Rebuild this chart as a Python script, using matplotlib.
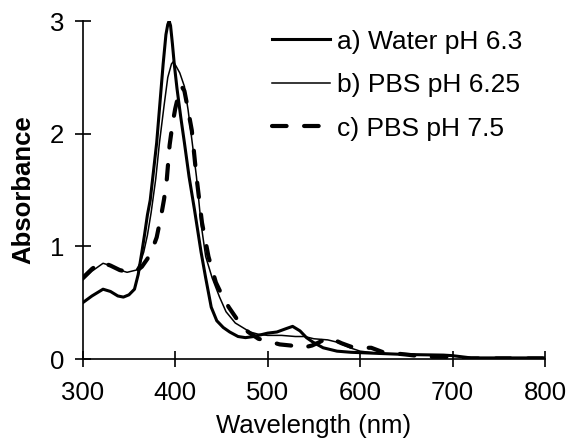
import matplotlib
matplotlib.use('Agg')
import matplotlib.pyplot as plt

plt.rcParams['font.family'] = ['Liberation Sans', 'DejaVu Sans']

# a) Water pH 6.3
wl_a = [300, 310, 322, 330, 338, 344, 350, 356, 360, 364, 367, 370, 373, 377, 380, 384, 387,
        390, 392, 393.5, 395, 397, 399, 402, 406, 410, 415, 421, 428, 433, 439, 445, 452,
        459, 468, 476, 485, 500, 510, 520, 527, 535, 542, 549, 560, 575, 590, 620, 650,
        690, 700, 720, 750, 800]
abs_a = [0.50, 0.56, 0.62, 0.60, 0.56, 0.55, 0.57, 0.62, 0.75, 0.95, 1.11, 1.28, 1.41, 1.70,
         1.92, 2.32, 2.62, 2.88, 2.97, 3.00, 2.96, 2.80, 2.62, 2.40, 2.15, 1.92, 1.62, 1.32,
         0.95, 0.72, 0.46, 0.34, 0.28, 0.24, 0.20, 0.19, 0.20, 0.23, 0.24, 0.27, 0.29, 0.25,
         0.19, 0.15, 0.10, 0.07, 0.06, 0.05, 0.04, 0.035, 0.03, 0.01, 0.01, 0.01]

# b) PBS pH 6.25
wl_b = [300, 310, 322, 330, 340, 348, 358, 362, 366, 370, 374, 379, 383, 388, 392, 396, 398,
        401, 405, 410, 414, 418, 423, 428, 433, 440, 448, 455, 465, 475, 481, 490, 500, 515,
        530, 540, 550, 565, 575, 589, 600, 620, 650, 690, 700, 720, 800]
abs_b = [0.70, 0.78, 0.85, 0.83, 0.79, 0.77, 0.79, 0.85, 0.95, 1.10, 1.30, 1.60, 1.92, 2.25,
         2.50, 2.62, 2.64, 2.60, 2.54, 2.42, 2.21, 1.95, 1.62, 1.20, 0.91, 0.72, 0.55, 0.42,
         0.32, 0.27, 0.24, 0.22, 0.21, 0.21, 0.20, 0.20, 0.18, 0.17, 0.15, 0.10, 0.07, 0.05,
         0.04, 0.035, 0.03, 0.01, 0.01]

# c) PBS pH 7.5
wl_c = [300, 310, 320, 330, 340, 350, 358, 364, 370, 376, 380, 385, 388, 391, 394, 397, 400,
        404, 407, 410, 414, 418, 423, 429, 436, 444, 451, 458, 468, 474, 479, 490, 500, 513,
        525, 538, 548, 556, 565, 572, 580, 590, 600, 612, 625, 650, 670, 690, 710, 800]
abs_c = [0.72, 0.80, 0.86, 0.83, 0.79, 0.77, 0.78, 0.82, 0.89, 0.99, 1.08, 1.28, 1.42, 1.60,
         1.90, 2.08, 2.22, 2.36, 2.42, 2.38, 2.21, 2.03, 1.62, 1.21, 0.91, 0.68, 0.56, 0.46,
         0.34, 0.28, 0.24, 0.18, 0.16, 0.13, 0.12, 0.10, 0.12, 0.15, 0.19, 0.17, 0.14, 0.11,
         0.10, 0.10, 0.06, 0.04, 0.02, 0.02, 0.005, 0.005]

labels = ['a) Water pH 6.3', 'b) PBS pH 6.25', 'c) PBS pH 7.5']

fig = plt.figure(figsize=(5.68, 4.4), dpi=100)
ax = fig.add_axes([0.1456, 0.184, 0.814, 0.768])

ax.plot(wl_a, abs_a, color='black', linewidth=2.2, label=labels[0])
ax.plot(wl_b, abs_b, color='black', linewidth=1.1, label=labels[1])
ax.plot(wl_c, abs_c, color='black', linewidth=3.0, linestyle=(0, (3.5, 4.2)),
        dash_capstyle='round', label=labels[2])

ax.set_xlim(300, 800)
ax.set_ylim(0, 3)
ax.set_xticks(range(300, 801, 100))
ax.set_yticks([0, 1, 2, 3])

for s in ['top', 'right']:
    ax.spines[s].set_visible(False)
for s in ['left', 'bottom']:
    ax.spines[s].set_linewidth(1.2)

ax.tick_params(direction='inout', length=11, width=1.2, labelsize=18.5)
ax.tick_params(axis='x', pad=10)
ax.tick_params(axis='y', pad=8)

ax.set_xlabel('Wavelength (nm)', fontsize=18.5, labelpad=7)
ax.set_ylabel('Absorbance', fontsize=18.5, fontweight='bold', labelpad=10)

ax.legend(loc='upper left', bbox_to_anchor=(0.4095, 0.975), frameon=False,
          fontsize=19, handlelength=2.2, handletextpad=0.27, labelspacing=0.74,
          borderpad=0, borderaxespad=0)

plt.savefig('out.png', dpi=100)
plt.close()
